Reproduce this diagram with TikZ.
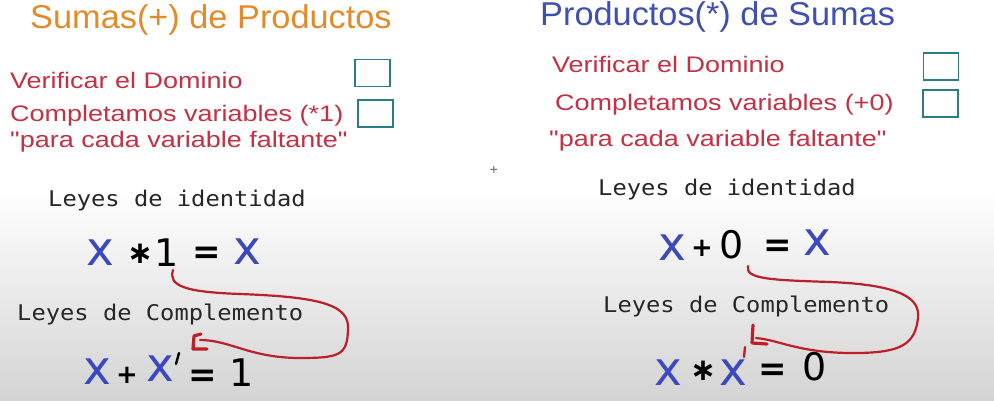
\documentclass[tikz,border=0pt]{standalone}
\usepackage{fontspec}
\setmainfont{Liberation Sans}
\newfontfamily\ttlf[FakeStretch=1.04]{Liberation Sans}
\newfontfamily\redf[FakeStretch=1.2]{Liberation Sans}
\newfontfamily\monof[FakeStretch=1.1]{DejaVu Sans Mono}
\newfontfamily\djv{DejaVu Sans}
\definecolor{ttlorange}{RGB}{228,138,40}
\definecolor{ttlblue}{RGB}{64,80,176}
\definecolor{txtred}{RGB}{196,48,68}
\definecolor{boxteal}{RGB}{40,125,135}
\definecolor{penblue}{RGB}{60,72,190}
\definecolor{penred}{RGB}{190,30,40}
\tikzset{
  ttl/.style={anchor=base west,inner sep=0pt,font=\ttlf\fontsize{33}{38}\selectfont},
  redtxt/.style={anchor=base west,inner sep=0pt,text=txtred,font=\redf\fontsize{22.5}{26}\selectfont},
  monotxt/.style={anchor=base west,inner sep=0pt,text=black!85,font=\monof\fontsize{21.6}{26}\selectfont},
  chk/.style={draw=boxteal,line width=1.6pt,minimum width=35pt,minimum height=27pt,inner sep=0pt},
  gx/.style={inner sep=0pt,text=penblue,font=\djv\fontsize{47}{47}\selectfont},
  gnum/.style={inner sep=0pt,text=black,font=\djv\fontsize{38}{38}\selectfont},
  geq/.style={inner sep=0pt,text=black,font=\djv\bfseries\fontsize{34}{34}\selectfont},
  gop/.style={inner sep=0pt,text=black,font=\djv\bfseries\fontsize{26}{26}\selectfont},
  gast/.style={inner sep=0pt,text=black,font=\djv\bfseries\fontsize{31}{31}\selectfont},
  loopline/.style={draw=penred,line width=2.2pt,line cap=round},
  bracket/.style={draw=penred,line width=3.2pt,line cap=round,line join=round},
  primeline/.style={line width=2.4pt,line cap=round}
}
\begin{document}
\begin{tikzpicture}[x=1pt,y=-1pt]
\useasboundingbox (0,0) rectangle (994,400);
% background
\fill[white] (0,0) rectangle (994,190);
\shade[top color=white,bottom color=black!17] (0,190) rectangle (994,400);

% titles
\node[ttl,text=ttlorange] (t1) at (30,28) {Sumas(+) de Productos};
\node[ttl,text=ttlblue] (t2) at (540,25) {Productos(*) de Sumas};

% left checklist
\node[redtxt] (l1) at (10,88) {Verificar el Dominio};
\node[redtxt] (l2) at (10,121) {Completamos variables (*1)};
\node[redtxt] (l3) at (10,147) {\symbol{"22}para cada variable faltante\symbol{"22}};
\node[chk] (lb1) at (372.5,73) {};
\node[chk] (lb2) at (375.5,113.5) {};

% right checklist
\node[redtxt] (r1) at (552,72) {Verificar el Dominio};
\node[redtxt] (r2) at (555,110) {Completamos variables (+0)};
\node[redtxt] (r3) at (549,146) {\symbol{"22}para cada variable faltante\symbol{"22}};
\node[chk] (rb1) at (941,66.5) {};
\node[chk] (rb2) at (940.5,103.5) {};

% small plus mark
\node[inner sep=0pt,text=black!60,font=\fontsize{14}{14}\selectfont] (pm) at (494,170) {+};

% left laws
\node[monotxt] (li) at (48,206) {Leyes de identidad};
\node[monotxt] (lc) at (17,320) {Leyes de Complemento};
% x * 1 = x
\node[gx] (la1) at (100,253) {x};
\node[gast] (la2) at (140,254) {∗};
\node[gnum] (la3) at (167,253) {1};
\node[geq] (la4) at (207,255) {=};
\node[gx] (la5) at (247,252) {x};
% x + x' = 1
\node[gx] (lb1x) at (97,372) {x};
\node[gop] (lb2x) at (127,375) {+};
\node[gx] (lb3x) at (160,369) {x};
\draw[primeline,black] (179,353) -- (176,364);
\node[geq] (lb4x) at (203,378) {=};
\node[gnum] (lb5x) at (242,373) {1};

% right laws
\node[monotxt] (ri) at (598,195) {Leyes de identidad};
\node[monotxt] (rc) at (603,312) {Leyes de Complemento};
% x + 0 = x
\node[gx] (ra1) at (672,248) {x};
\node[gop] (ra2) at (702,248) {+};
\node[gnum] (ra3) at (732,245) {0};
\node[geq] (ra4) at (778,248) {=};
\node[gx] (ra5) at (817,243) {x};
% x * x' = 0
\node[gx] (rb1x) at (668,373) {x};
\node[gast] (rb2x) at (703,371) {∗};
\node[gx] (rb3x) at (733,373) {x};
\draw[primeline,penred] (745,347) -- (744,357);
\node[geq] (rb4x) at (773,372) {=};
\node[gnum] (rb5x) at (815,367) {0};

% left loop connector
\coordinate (ls) at (173,270);
\coordinate (le) at (200,340);
\draw[loopline] (ls) .. controls (168,286) and (185,292) .. (240,294)
  .. controls (322,297) and (350,305) .. (348,330)
  .. controls (347,355) and (340,358) .. (300,358)
  .. controls (250,358) and (230,340) .. (le);
\draw[bracket] (201,334) -- (194,336) -- (193,349) -- (207,349);

% right loop connector
\coordinate (rs) at (748,266);
\coordinate (re) at (756,338);
\draw[loopline] (rs) .. controls (745,279) and (770,280) .. (830,282)
  .. controls (905,285) and (920,300) .. (918,318)
  .. controls (915,345) and (900,352) .. (860,353)
  .. controls (800,354) and (780,340) .. (re);
\draw[bracket] (753,325) -- (752,343) -- (767,344);
\end{tikzpicture}
\end{document}
